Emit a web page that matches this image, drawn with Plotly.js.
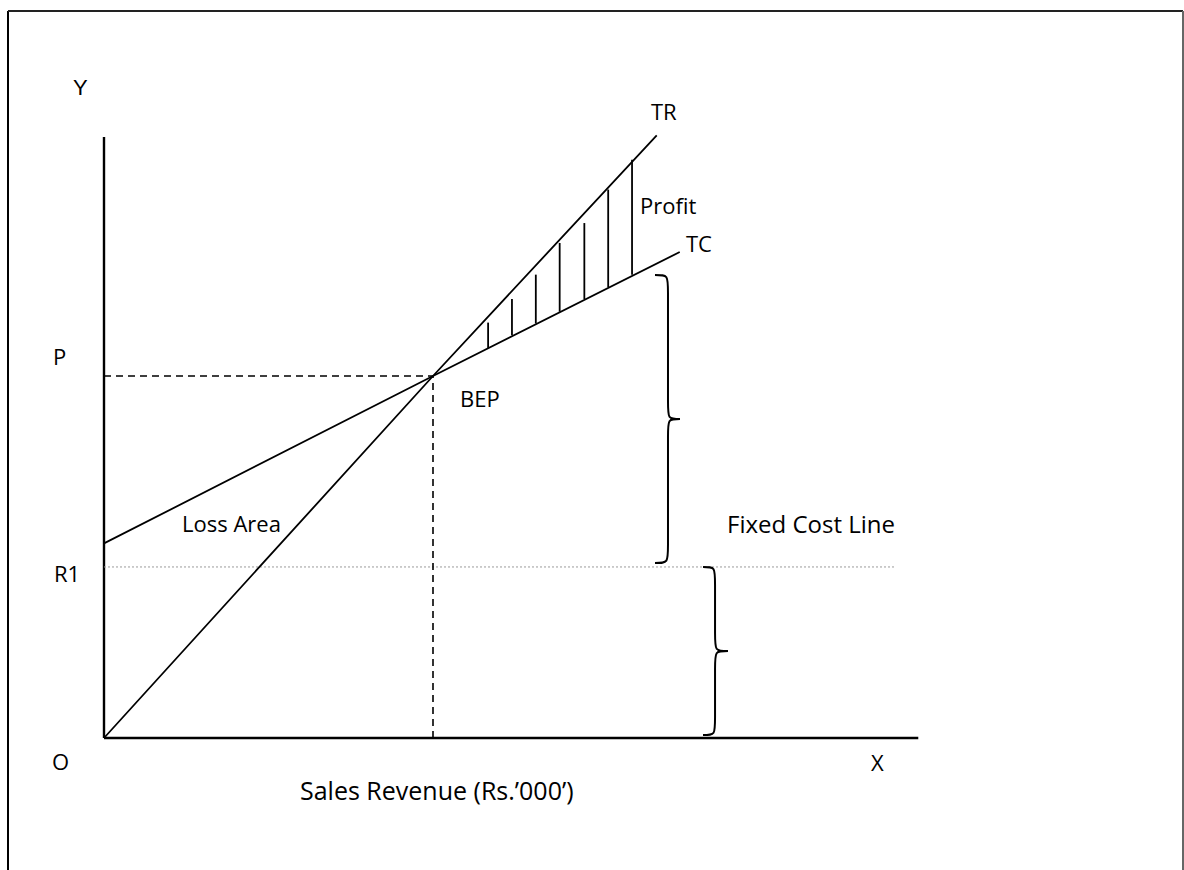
<!DOCTYPE html>
<html>
<head>
<meta charset="utf-8">
<script src="https://cdn.plot.ly/plotly-3.0.1.min.js"></script>
<style>html,body{margin:0;padding:0;background:#fff;}#chart{width:1184px;height:870px;}</style>
</head>
<body>
<div id="chart"></div>
<script>
// ---- data (sales revenue in Rs.'000', cost / revenue units) ----
const trX = [0, 40, 67.2];
const trY = [0, 40, 66.6];
const tcX = [0, 40, 70];
const tcY = [21.5, 40, 53.7];
const bepX = 40;
const bepY = 40;
const fixedCost = 18.9;
const fixedCostEnd = 96.2;
const yAxisTop = 66.4;
const xAxisEnd = 99;
const hatchX = [46.7, 49.6, 52.5, 55.4, 58.4, 61.3, 64.2];
const hatchTop = [45.9, 48.5, 51.2, 54.7, 56.9, 60.6, 63.9];
const hatchBottom = [43.1, 44.5, 45.8, 47.1, 48.5, 49.8, 51.2];
// braces: [x of spine, y bottom, y top]
const braceUpper = [68.57, 19.34, 51.16];
const braceLower = [74.29, 0.33, 18.90];

const black = '#000';
const traces = [];
function seg(x, y, opts) {
  traces.push(Object.assign({type: 'scatter', mode: 'lines', x: x, y: y, hoverinfo: 'skip', showlegend: false,
    line: {color: black, width: 1.8}}, opts || {}));
}
// axes
seg([0, 0], [0, yAxisTop], {line: {color: black, width: 2.4}});
seg([0, xAxisEnd], [0, 0], {line: {color: black, width: 2.6}});
// fixed cost line
seg([0, fixedCostEnd], [fixedCost, fixedCost], {line: {color: '#9a9a9a', width: 1, dash: '2px,2px'}});
// BEP guides
seg([0, bepX], [bepY, bepY], {line: {color: black, width: 1.6, dash: '7px,5px'}});
seg([bepX, bepX], [0, bepY], {line: {color: black, width: 1.6, dash: '7px,5px'}});
// TR and TC
seg(trX, trY);
seg(tcX, tcY);
// hatching
for (let i = 0; i < hatchX.length; i++) seg([hatchX[i], hatchX[i]], [hatchBottom[i], hatchTop[i]]);

function bracePath(b, arm, tip, curl) {
  const [sx, y0, y1] = b;
  const ym = (y0 + y1) / 2;
  const lx = sx - arm, tx = sx + tip;
  return `M ${lx},${y1} C ${sx},${y1} ${sx},${y1} ${sx},${y1 - curl} L ${sx},${ym + curl} C ${sx},${ym} ${sx},${ym} ${tx},${ym} ` +
         `C ${sx},${ym} ${sx},${ym} ${sx},${ym - curl} L ${sx},${y0 + curl} C ${sx},${y0} ${sx},${y0} ${lx},${y0}`;
}

const shapes = [
  {type: 'path', xref: 'x', yref: 'y', path: bracePath(braceUpper, 1.58, 1.46, 2.0), line: {color: black, width: 2}},
  {type: 'path', xref: 'x', yref: 'y', path: bracePath(braceLower, 1.46, 1.58, 2.0), line: {color: black, width: 2}},
  // outer frame
  {type: 'line', xref: 'paper', yref: 'paper', x0: 8 / 1184, x1: 8 / 1184, y0: -0.02, y1: 1 - 11 / 870, line: {color: black, width: 2}},
  {type: 'line', xref: 'paper', yref: 'paper', x0: 8 / 1184, x1: 1183 / 1184, y0: 1 - 11 / 870, y1: 1 - 11 / 870, line: {color: '#222', width: 2}},
  {type: 'line', xref: 'paper', yref: 'paper', x0: 1183 / 1184, x1: 1183 / 1184, y0: -0.02, y1: 1 - 11 / 870, line: {color: '#666', width: 2}}
];

const fam = 'Open Sans, Noto Sans, sans-serif';
const f = {family: fam, size: 22, color: black};
function lab(text, x, y, anchor, font) {
  return {text: text, x: x, y: y, xref: 'x', yref: 'y', showarrow: false, xanchor: anchor || 'center', yanchor: 'middle', font: font || f};
}
const annotations = [
  lab('Y', -2.80, 71.93, 'center', {family: 'Liberation Sans, Arial, sans-serif', size: 22, color: black}),
  lab('TR', 68.09, 69.28),
  lab('TC', 72.34, 54.70),
  lab('Profit', 68.57, 58.90),
  lab('P', -5.47, 42.21),
  lab('BEP', 45.71, 37.57),
  lab('Loss Area', 15.56, 23.76),
  lab('Fixed Cost Line', 75.50, 23.65, 'left', {family: fam, size: 24, color: black}),
  lab('R1', -4.50, 18.23),
  lab('O', -5.23, -2.54),
  lab('X', 94.10, -2.65),
  lab('Sales Revenue (Rs.\u2019000\u2019)', 40.49, -5.75, 'center', {family: fam, size: 25, color: black})
];

const layout = {
  width: 1184, height: 870,
  margin: {l: 0, r: 0, t: 0, b: 0, pad: 0},
  paper_bgcolor: '#fff', plot_bgcolor: '#fff',
  xaxis: {range: [-104 / 8.225, 1080 / 8.225], visible: false, fixedrange: true},
  yaxis: {range: [-132 / 9.05, 738 / 9.05], visible: false, fixedrange: true},
  showlegend: false,
  shapes: shapes,
  annotations: annotations
};
Plotly.newPlot('chart', traces, layout, {displayModeBar: false, staticPlot: true});
</script>
</body>
</html>
